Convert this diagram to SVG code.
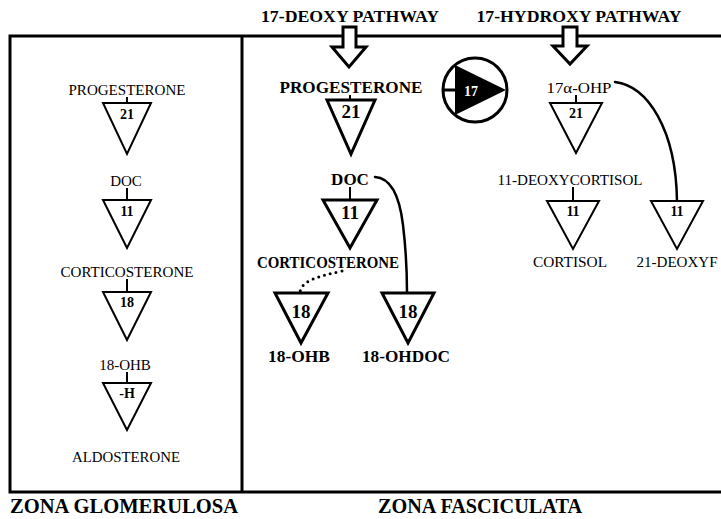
<svg xmlns="http://www.w3.org/2000/svg" width="721" height="519" viewBox="0 0 721 519">
  <style>
    .frame { fill: none; stroke: #000; stroke-width: 3; }
    .tri { fill: #fff; stroke: #000; stroke-width: 2; stroke-linejoin: miter; }
    .tri-b { fill: #fff; stroke: #000; stroke-width: 3; stroke-linejoin: miter; }
    .tick { stroke: #000; stroke-width: 2; }
    .conn { fill: none; stroke: #000; stroke-width: 2.5; stroke-linecap: round; }
    .dots { fill: none; stroke: #000; stroke-width: 3; stroke-linecap: round; stroke-dasharray: 0 6; }
    .arrow { fill: #fff; stroke: #000; stroke-width: 3; stroke-linejoin: miter; }
    text { font-family: "Liberation Serif", "Times New Roman", serif; fill: #000; text-anchor: middle; }
    .lbl { font-size: 15px; }
    .lblb { font-size: 17px; font-weight: bold; }
    .num { font-size: 14px; font-weight: bold; }
    .numb { font-size: 19px; font-weight: bold; }
    .head { font-size: 17px; font-weight: bold; }
    .zone { font-size: 20px; font-weight: bold; }
  </style>

  <!-- pathway headings -->
  <text class="head" x="350" y="22" textLength="178" lengthAdjust="spacingAndGlyphs">17-DEOXY PATHWAY</text>
  <text class="head" x="579" y="22" textLength="205" lengthAdjust="spacingAndGlyphs">17-HYDROXY PATHWAY</text>

  <!-- zone frame -->
  <g id="frame">
    <path class="frame" d="M721,36 L10,36 L10,492 L721,492"/>
    <path class="frame" d="M242,36 L242,492"/>
  </g>

  <!-- entry arrows -->
  <g id="arrow-deoxy">
    <path class="arrow" d="M343,27 L356,27 L356,47 L366,47 L349,67 L332,47 L343,47 Z"/>
  </g>
  <g id="arrow-hydroxy">
    <path class="arrow" d="M563,27 L577,27 L577,46 L587,46 L570,64 L553,46 L563,46 Z"/>
  </g>

  <!-- 17-hydroxylase symbol -->
  <g id="enzyme-17">
    <circle cx="475" cy="90" r="32" fill="#fff" stroke="#000" stroke-width="3"/>
    <path d="M443,90 L456,90" stroke="#000" stroke-width="3"/>
    <path d="M455,65 L506,90 L455,115 Z" fill="#000"/>
    <text x="471" y="96" font-size="14" font-weight="bold" style="fill:#fff">17</text>
  </g>

  <!-- connectors -->
  <g id="connectors">
    <!-- zona glomerulosa ticks -->
    <line class="tick" x1="127" y1="97" x2="127" y2="103"/>
    <line class="tick" x1="127" y1="188" x2="127" y2="200"/>
    <line class="tick" x1="127" y1="279" x2="127" y2="292"/>
    <line class="tick" x1="127" y1="372" x2="127" y2="383"/>
    <!-- zona fasciculata, 17-deoxy ticks -->
    <line class="tick" x1="350" y1="95" x2="350" y2="100" stroke-width="2.5"/>
    <line class="tick" x1="350" y1="187" x2="350" y2="200" stroke-width="2.5"/>
    <!-- zona fasciculata, 17-hydroxy ticks -->
    <line class="tick" x1="576" y1="95" x2="576" y2="103"/>
    <line class="tick" x1="573" y1="187" x2="573" y2="201"/>
    <!-- DOC to 18-OHDOC -->
    <path class="conn" d="M375,177 C392,178 400,200 403,225 C406,250 407,270 407,293"/>
    <!-- corticosterone to 18-OHB (dotted) -->
    <path class="dots" d="M342,271 C320,276 302,280 300,292"/>
    <!-- 17a-OHP to 21-deoxyF -->
    <path class="conn" d="M615,82 C648,86 676,130 677,201"/>
  </g>

  <!-- zona glomerulosa -->
  <g id="zg-progesterone"><text class="lbl" x="127" y="95" textLength="117" lengthAdjust="spacingAndGlyphs">PROGESTERONE</text></g>
  <g id="zg-e21">
    <path class="tri" d="M103,103 L151,103 L127,154 Z"/>
    <text class="num" x="127" y="119">21</text>
  </g>
  <g id="zg-doc"><text class="lbl" x="126" y="186">DOC</text></g>
  <g id="zg-e11">
    <path class="tri" d="M103,200 L151,200 L127,248 Z"/>
    <text class="num" x="127" y="216">11</text>
  </g>
  <g id="zg-corticosterone"><text class="lbl" x="127" y="277" textLength="133" lengthAdjust="spacingAndGlyphs">CORTICOSTERONE</text></g>
  <g id="zg-e18">
    <path class="tri" d="M103,292 L151,292 L127,340 Z"/>
    <text class="num" x="127" y="307">18</text>
  </g>
  <g id="zg-18ohb"><text class="lbl" x="125" y="370">18-OHB</text></g>
  <g id="zg-eh">
    <path class="tri" d="M103,383 L151,383 L127,430 Z"/>
    <text class="num" x="127" y="398">-H</text>
  </g>
  <g id="zg-aldosterone"><text class="lbl" x="126" y="462" textLength="108" lengthAdjust="spacingAndGlyphs">ALDOSTERONE</text></g>

  <!-- zona fasciculata, 17-deoxy -->
  <g id="zf-progesterone"><text class="lblb" x="351" y="93" textLength="143" lengthAdjust="spacingAndGlyphs">PROGESTERONE</text></g>
  <g id="zf-e21">
    <path class="tri-b" d="M327,100 L375,100 L351,154 Z"/>
    <text class="numb" x="351" y="118" font-size="18">21</text>
  </g>
  <g id="zf-doc"><text class="lblb" x="350" y="185">DOC</text></g>
  <g id="zf-e11">
    <path class="tri-b" d="M323,200 L377,200 L350,248 Z"/>
    <text class="numb" x="350" y="219">11</text>
  </g>
  <g id="zf-corticosterone"><text class="lblb" x="328" y="268" font-size="15" textLength="142" lengthAdjust="spacingAndGlyphs">CORTICOSTERONE</text></g>
  <g id="zf-e18a">
    <path class="tri-b" d="M275,293 L328,293 L301,343 Z"/>
    <text class="numb" x="301" y="318" font-size="20">18</text>
  </g>
  <g id="zf-e18b">
    <path class="tri-b" d="M382,293 L434,293 L408,343 Z"/>
    <text class="numb" x="408" y="318" font-size="20">18</text>
  </g>
  <g id="zf-18ohb"><text class="lblb" x="299" y="362" textLength="62" lengthAdjust="spacingAndGlyphs">18-OHB</text></g>
  <g id="zf-18ohdoc"><text class="lblb" x="406" y="362" textLength="88" lengthAdjust="spacingAndGlyphs">18-OHDOC</text></g>

  <!-- zona fasciculata, 17-hydroxy -->
  <g id="zf-17ohp"><text class="lbl" x="579" y="93" textLength="65" lengthAdjust="spacingAndGlyphs">17α-OHP</text></g>
  <g id="zf-h21">
    <path class="tri" d="M550,103 L602,103 L576,153 Z" stroke-width="2.5"/>
    <text class="num" x="576" y="118">21</text>
  </g>
  <g id="zf-deoxycortisol"><text class="lbl" x="570" y="185" textLength="145" lengthAdjust="spacingAndGlyphs">11-DEOXYCORTISOL</text></g>
  <g id="zf-h11">
    <path class="tri" d="M547,201 L599,201 L573,249 Z" stroke-width="2.5"/>
    <text class="num" x="573" y="216">11</text>
  </g>
  <g id="zf-cortisol"><text class="lbl" x="570" y="267" textLength="74" lengthAdjust="spacingAndGlyphs">CORTISOL</text></g>
  <g id="zf-h11b">
    <path class="tri" d="M651,201 L703,201 L677,249 Z" stroke-width="2.5"/>
    <text class="num" x="677" y="216">11</text>
  </g>
  <g id="zf-21deoxyf"><text class="lbl" x="677" y="267" textLength="81" lengthAdjust="spacingAndGlyphs">21-DEOXYF</text></g>

  <!-- zone labels -->
  <text class="zone" x="124" y="513" textLength="228" lengthAdjust="spacingAndGlyphs">ZONA GLOMERULOSA</text>
  <text class="zone" x="480" y="513" textLength="204" lengthAdjust="spacingAndGlyphs">ZONA FASCICULATA</text>
</svg>
